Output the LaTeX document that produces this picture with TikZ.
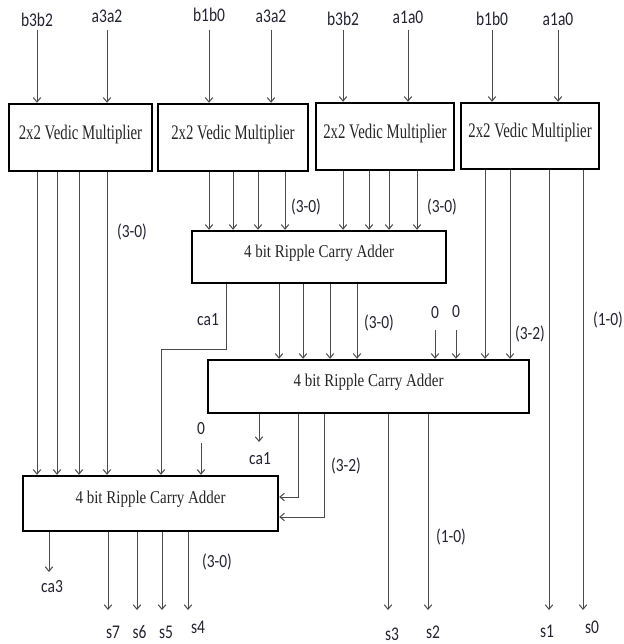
\documentclass[tikz,border=0pt]{standalone}
\usepackage{graphicx}
\usepackage{fontspec}
\setmainfont{Liberation Serif}
\newfontfamily\labfont{Carlito}
\usetikzlibrary{arrows.meta}
\newcommand\ystr[2]{\scalebox{1}[#1]{#2}}
\definecolor{linec}{RGB}{75,75,75}
\definecolor{labc}{RGB}{35,35,50}
\tikzset{
  wire/.style={draw=linec, line width=1pt},
  arr/.style={wire, -{Straight Barb[length=4.5pt,width=7.5pt,line width=1pt]}},
  lab/.style={font=\labfont\fontsize{15.5}{15.5}\selectfont, text=labc, inner sep=0pt},
  mult/.style={draw=black, line width=2.4pt, minimum height=67pt, inner sep=0pt,
    font=\fontsize{14.8}{14.8}\selectfont, text=black!85, text height=10pt, text depth=6.6pt},
  rca/.style={draw=black, line width=2.4pt, inner sep=0pt,
    font=\fontsize{15}{15}\selectfont, text=black!85, text height=6pt, text depth=6pt}
}
\begin{document}
\begin{tikzpicture}[x=1pt,y=-1pt]
\useasboundingbox (0,0) rectangle (623,644);

% multipliers
\node[mult, minimum width=143pt] (M1) at (80.5,137.5) {\ystr{1.4}{2x2 Vedic Multiplier}};
\node[mult, minimum width=150pt] (M2) at (233,137.5) {\ystr{1.4}{2x2 Vedic Multiplier}};
\node[mult, minimum width=138pt] (M3) at (385,136.5) {\ystr{1.4}{2x2 Vedic Multiplier}};
\node[mult, minimum width=138pt, minimum height=66pt] (M4) at (530,136) {\ystr{1.4}{2x2 Vedic Multiplier}};

% adders
\node[rca, minimum width=254pt, minimum height=52pt] (R1) at (319,257) {\ystr{1.2}{4 bit Ripple Carry Adder}};
\node[rca, minimum width=321pt, minimum height=53pt] (R2) at (368.5,386.5) {\ystr{1.2}{4 bit Ripple Carry Adder}};
\node[rca, minimum width=255pt, minimum height=55pt] (R3) at (150.5,503.5) {\ystr{1.2}{4 bit Ripple Carry Adder}};

% inputs
\coordinate (c1) at (37,30);  \node[lab, anchor=base] (l1) at (37,27) {\ystr{1.25}{b3b2}};
\coordinate (c2) at (107,30); \node[lab, anchor=base] (l2) at (107,23) {\ystr{1.25}{a3a2}};
\coordinate (c3) at (209,30); \node[lab, anchor=base] (l3) at (209,22) {\ystr{1.25}{b1b0}};
\coordinate (c4) at (271,30); \node[lab, anchor=base] (l4) at (271,23) {\ystr{1.25}{a3a2}};
\coordinate (c5) at (343,30); \node[lab, anchor=base] (l5) at (343,26) {\ystr{1.25}{b3b2}};
\coordinate (c6) at (408,30); \node[lab, anchor=base] (l6) at (408,24) {\ystr{1.25}{a1a0}};
\coordinate (c7) at (492,30); \node[lab, anchor=base] (l7) at (492,26) {\ystr{1.25}{b1b0}};
\coordinate (c8) at (558,30); \node[lab, anchor=base] (l8) at (558,26) {\ystr{1.25}{a1a0}};
\draw[arr] (c1) -- (c1 |- M1.north);
\draw[arr] (c2) -- (c2 |- M1.north);
\draw[arr] (c3) -- (c3 |- M2.north);
\draw[arr] (c4) -- (c4 |- M2.north);
\draw[arr] (c5) -- (c5 |- M3.north);
\draw[arr] (c6) -- (c6 |- M3.north);
\draw[arr] (c7) -- (c7 |- M4.north);
\draw[arr] (c8) -- (c8 |- M4.north);

% M1 -> R3
\foreach \x in {37,57,79,107} \draw[arr] (M1.south -| \x,0) -- (R3.north -| \x,0);
\node[lab] (t1) at (132,232) {\ystr{1.2}{(3-0)}};

% M2, M3 -> R1
\foreach \x in {209,233,258,285} \draw[arr] (M2.south -| \x,0) -- (R1.north -| \x,0);
\node[lab] (t2) at (306,207) {\ystr{1.2}{(3-0)}};
\foreach \x in {343,369,389,417} \draw[arr] (M3.south -| \x,0) -- (R1.north -| \x,0);
\node[lab] (t3) at (442,207) {\ystr{1.2}{(3-0)}};

% M4 outputs
\foreach \x in {485,510} \draw[arr] (M4.south -| \x,0) -- (R2.north -| \x,0);
\node[lab] (t4) at (530,334) {\ystr{1.2}{(3-2)}};
\coordinate (e1) at (549,610);
\coordinate (e0) at (583,610);
\draw[arr] (M4.south -| e1) -- (e1);
\draw[arr] (M4.south -| e0) -- (e0);
\node[lab] (t5) at (608,320) {\ystr{1.2}{(1-0)}};

% R1 outputs
\draw[arr] (R1.south -| 226,0) -- ++(0,65) -| (R3.north -| 161,0);
\node[lab] (ca1a) at (208,320) {\ystr{1.2}{ca1}};
\foreach \x in {279,303,330,357} \draw[arr] (R1.south -| \x,0) -- (R2.north -| \x,0);
\node[lab] (t6) at (379,323) {\ystr{1.2}{(3-0)}};

% zeros into R2
\coordinate (z1) at (435,330); \node[lab] (zl1) at (435,313) {\ystr{1.2}{0}};
\coordinate (z2) at (456,330); \node[lab] (zl2) at (456,312) {\ystr{1.2}{0}};
\draw[arr] (z1) -- (z1 |- R2.north);
\draw[arr] (z2) -- (z2 |- R2.north);

% R2 outputs
\coordinate (k1) at (259,442);
\draw[arr] (R2.south -| k1) -- (k1);
\node[lab] (ca1b) at (260,459) {\ystr{1.2}{ca1}};
\draw[arr] (R2.south -| 298,0) |- ([yshift=6.5pt]R3.east);
\draw[arr] (R2.south -| 324,0) |- ([yshift=-13.5pt]R3.east);
\node[lab] (t7) at (346,466) {\ystr{1.2}{(3-2)}};
\coordinate (e3) at (388,610);
\coordinate (e2) at (428,610);
\draw[arr] (R2.south -| e3) -- (e3);
\draw[arr] (R2.south -| e2) -- (e2);
\node[lab] (t8) at (451,537) {\ystr{1.2}{(1-0)}};

% zero into R3
\coordinate (z3) at (201,443); \node[lab] (zl3) at (201,429) {\ystr{1.2}{0}};
\draw[arr] (z3) -- (z3 |- R3.north);

% R3 outputs
\coordinate (k3) at (49,572);
\draw[arr] (R3.south -| k3) -- (k3);
\node[lab] (ca3) at (52,587) {\ystr{1.2}{ca3}};
\coordinate (e7) at (108,610);
\coordinate (e6) at (137,610);
\coordinate (e5) at (162,610);
\coordinate (e4) at (188,610);
\draw[arr] (R3.south -| e7) -- (e7);
\draw[arr] (R3.south -| e6) -- (e6);
\draw[arr] (R3.south -| e5) -- (e5);
\draw[arr] (R3.south -| e4) -- (e4);
\node[lab] (t9) at (217,562) {\ystr{1.2}{(3-0)}};

% sum labels
\node[lab, anchor=base] (s7) at (113,638) {\ystr{1.25}{s7}};
\node[lab, anchor=base] (s6) at (139.5,638) {\ystr{1.25}{s6}};
\node[lab, anchor=base] (s5) at (166,638) {\ystr{1.25}{s5}};
\node[lab, anchor=base] (s4) at (198,633) {\ystr{1.25}{s4}};
\node[lab, anchor=base] (s3) at (392,640) {\ystr{1.25}{s3}};
\node[lab, anchor=base] (s2) at (433,638) {\ystr{1.25}{s2}};
\node[lab, anchor=base] (s1) at (547,637) {\ystr{1.25}{s1}};
\node[lab, anchor=base] (s0) at (592,633) {\ystr{1.25}{s0}};
\end{tikzpicture}
\end{document}
